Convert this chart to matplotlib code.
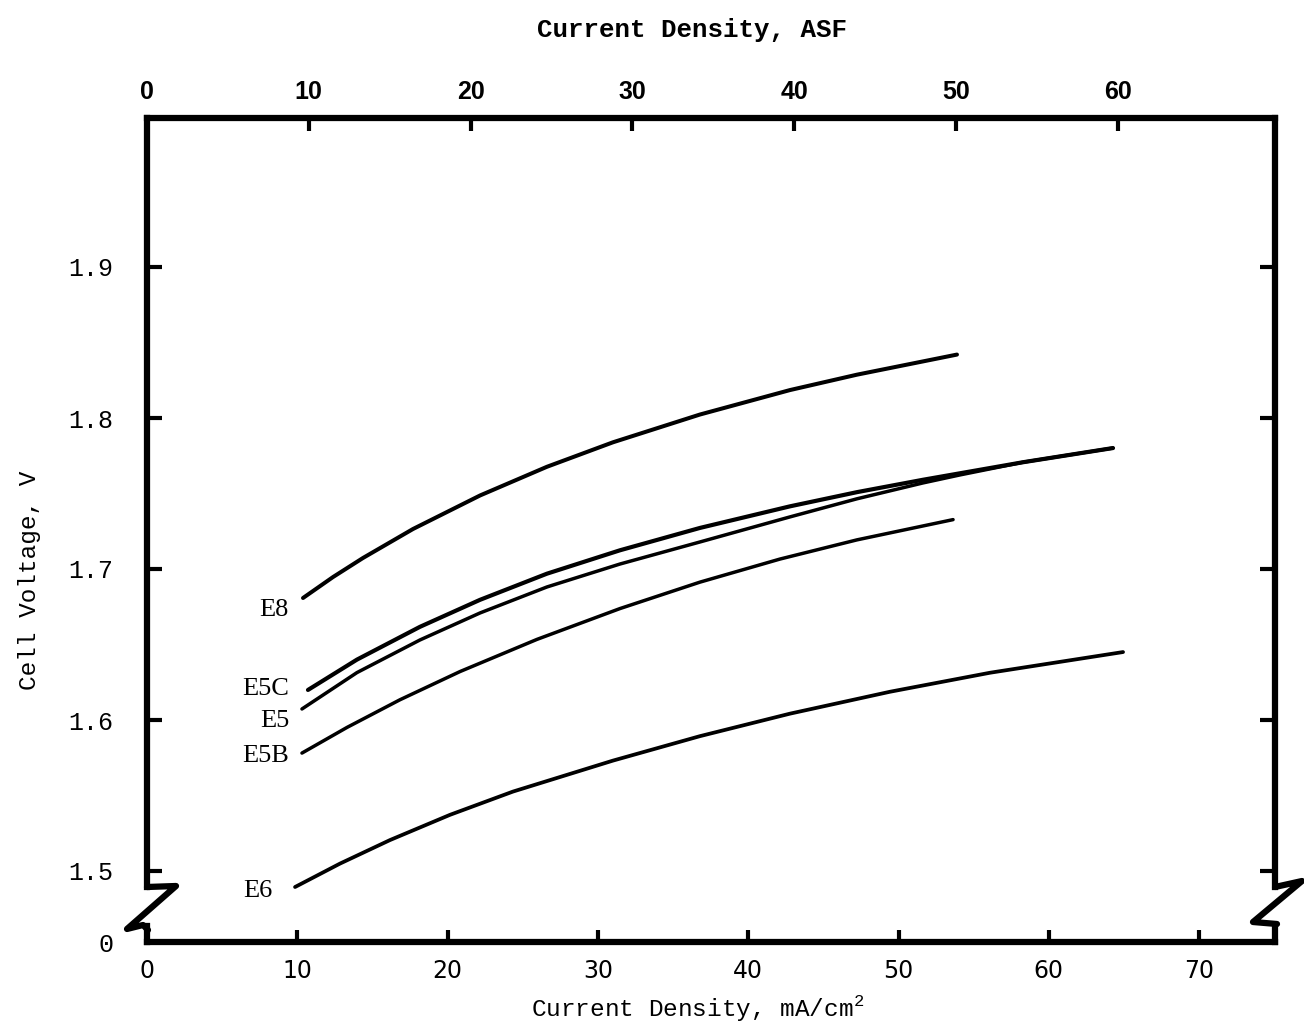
import matplotlib
matplotlib.use("Agg")
import matplotlib.pyplot as plt
from matplotlib.lines import Line2D

# ---------------- data (mA/cm^2 , V) ----------------
e8_x = [10.38, 12.38, 14.37, 17.70, 22.16, 26.61, 31.00, 36.79, 42.78, 47.24, 53.89]
e8_y = [1.6808, 1.6947, 1.7073, 1.7265, 1.7487, 1.7677, 1.7839, 1.8023, 1.8185, 1.8287, 1.8420]

e5c_x = [10.71, 13.97, 18.16, 22.16, 26.61, 31.47, 36.79, 42.78, 47.24, 51.63, 58.28, 64.27]
e5c_y = [1.6199, 1.6400, 1.6617, 1.6796, 1.6969, 1.7124, 1.7272, 1.7415, 1.7509, 1.7591, 1.7707, 1.7801]

e5_x = [10.31, 13.97, 18.16, 22.16, 26.61, 31.47, 36.79, 42.78, 47.24, 51.63, 54.09, 58.28, 64.27]
e5_y = [1.6073, 1.6314, 1.6530, 1.6709, 1.6881, 1.7033, 1.7179, 1.7345, 1.7465, 1.7570, 1.7623, 1.7707, 1.7801]

e5b_x = [10.31, 13.31, 16.83, 20.83, 25.95, 31.47, 36.79, 42.12, 47.24, 53.63]
e5b_y = [1.5781, 1.5951, 1.6134, 1.6321, 1.6534, 1.6738, 1.6913, 1.7066, 1.7193, 1.7327]

e6_x = [9.85, 12.84, 16.17, 20.16, 24.35, 31.00, 36.79, 42.78, 49.43, 56.09, 64.94]
e6_y = [1.4894, 1.5049, 1.5205, 1.5372, 1.5526, 1.5731, 1.5893, 1.6042, 1.6187, 1.6313, 1.6450]

series_names = ["E8", "E5C", "E5", "E5B", "E6"]
label_x = [9.45, 9.45, 9.45, 9.45, 8.38]
label_y = [1.6728, 1.6205, 1.5993, 1.5762, 1.4868]

bottom_ticks = [0, 10, 20, 30, 40, 50, 60, 70]
top_ticks = [0, 10, 20, 30, 40, 50, 60]          # ASF
volt_ticks = [1.5, 1.6, 1.7, 1.8, 1.9]
volt_labels = ["1.5", "1.6", "1.7", "1.8", "1.9"]
ASF_TO_MA = 1.0764

# ---------------- figure ----------------
W, H = 1304, 1035
plt.rcParams["mathtext.fontset"] = "custom"
plt.rcParams["mathtext.rm"] = "Liberation Mono"
fig = plt.figure(figsize=(W / 100, H / 100), dpi=100)
fig.patch.set_facecolor("white")

def fx(px):
    return px / W

def fy(py):
    return 1 - py / H

SP = 4.5   # spine width
LEFT, RIGHT = 147, 1275
x0, x1 = 0, (RIGHT - LEFT) / 15.03

# main (upper) axes
top_px, bot_px = 118, 900
ax = fig.add_axes([fx(LEFT), fy(bot_px), fx(RIGHT) - fx(LEFT), (bot_px - top_px) / H])
ax.set_xlim(x0, x1)
ax.set_ylim(1.5 - (bot_px - 871) / 1510, 1.5 + (871 - top_px) / 1510)
ax.set_facecolor("none")

for xs, ys, lw in [(e8_x, e8_y, 2.9), (e5c_x, e5c_y, 3.0), (e5_x, e5_y, 2.5),
                   (e5b_x, e5b_y, 2.5), (e6_x, e6_y, 2.7)]:
    ax.plot(xs, ys, color="black", lw=lw, solid_capstyle="round", solid_joinstyle="round")

for name, lx, ly in zip(series_names, label_x, label_y):
    ax.text(lx, ly, name, ha="right", va="center", fontsize=19,
            family="Liberation Serif", color="black")

ax.spines["bottom"].set_visible(False)
ax.spines["top"].set_visible(False)
brk = 1.5 - (887 - 871) / 1510
for s in ["left", "right"]:
    ax.spines[s].set_linewidth(SP)
    ax.spines[s].set_bounds(brk, ax.get_ylim()[1])
    ax.spines[s].set_capstyle("projecting")
ax.tick_params(axis="x", bottom=False, labelbottom=False, top=False, labeltop=False)
ax.set_yticks(volt_ticks, labels=volt_labels)
ax.tick_params(axis="y", direction="in", length=11, width=3, left=True, right=True,
               labelleft=True, labelright=False, pad=24, labelsize=18)
for t in ax.get_yticklabels():
    t.set_family("Liberation Mono")

secax = ax.secondary_xaxis("top", functions=(lambda v: v / ASF_TO_MA, lambda v: v * ASF_TO_MA))
secax.set_xticks(top_ticks, labels=[str(t) for t in top_ticks])
secax.tick_params(direction="in", length=9, width=3, pad=10)
for t in secax.get_xticklabels():
    t.set_family("Liberation Sans")
    t.set_fontweight("bold")
    t.set_fontsize(18)
secax.spines["top"].set_linewidth(SP)
secax.spines["top"].set_capstyle("projecting")

# lower (zero) axes
b_top, b_bot = 926, 942
axb = fig.add_axes([fx(LEFT), fy(b_bot), fx(RIGHT) - fx(LEFT), (b_bot - b_top) / H])
axb.set_xlim(x0, x1)
axb.set_ylim(0, 1)
axb.set_facecolor("none")
axb.spines["top"].set_visible(False)
for s in ["left", "right", "bottom"]:
    axb.spines[s].set_linewidth(SP)
    axb.spines[s].set_capstyle("projecting")
axb.set_xticks(bottom_ticks, labels=[str(t) for t in bottom_ticks])
axb.tick_params(axis="x", direction="in", length=9, width=3, pad=12)
for t in axb.get_xticklabels():
    t.set_family("DejaVu Sans")
    t.set_fontsize(17)
axb.set_yticks([0], labels=["0"])
axb.tick_params(axis="y", length=0, pad=24, labelsize=18)
for t in axb.get_yticklabels():
    t.set_family("Liberation Mono")

# axis-break zigzags
zl = [(147, 887), (176, 886), (127, 929), (143, 925), (148, 930)]
zr = [(1275, 887), (1302, 881), (1253, 922), (1277, 924)]
for pts in (zl, zr):
    fig.add_artist(Line2D([fx(p[0]) for p in pts], [fy(p[1]) for p in pts],
                          transform=fig.transFigure, color="black", lw=SP,
                          solid_joinstyle="round", solid_capstyle="round"))

# titles
fig.text(fx(692), fy(30), "Current Density, ASF", ha="center", va="center",
         family="Liberation Mono", fontweight="bold", fontsize=18.6)
fig.text(fx(698), fy(1008), "Current Density, mA/cm$^{2}$", ha="center", va="center",
         family="Liberation Mono", fontsize=17.6)
fig.text(fx(30), fy(580), "Cell Voltage, V", ha="center", va="center", rotation=90,
         family="Liberation Mono", fontsize=17.6)

fig.savefig("out.png", dpi=100, facecolor="white")
